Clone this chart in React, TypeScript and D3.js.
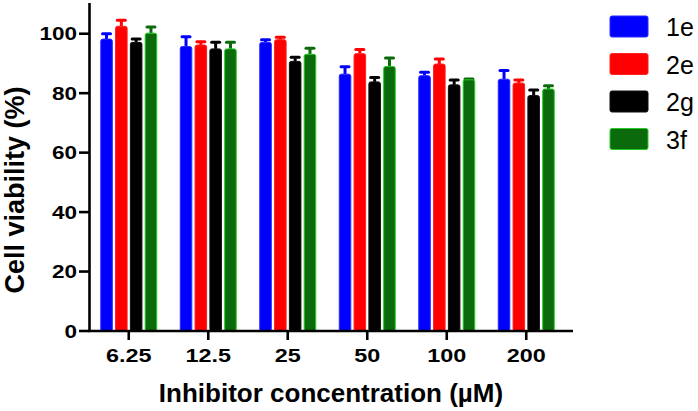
import React from "react";
import * as d3 from "d3";

const categories = ["6.25", "12.5", "25", "50", "100", "200"];
const series = ["1e", "2e", "2g", "3f"];
const values1e = [98.2, 95.7, 97.1, 86.4, 85.9, 84.7];
const errors1e = [1.8, 3.3, 0.9, 2.5, 1.1, 2.9];
const values2e = [102.5, 96.2, 98.0, 93.3, 89.8, 83.4];
const errors2e = [2.0, 1.1, 0.8, 1.4, 1.7, 1.0];
const values2g = [97.1, 94.9, 90.7, 83.8, 82.8, 79.2];
const errors2g = [1.1, 2.2, 1.4, 1.5, 1.6, 1.9];
const values3f = [100.2, 94.9, 93.1, 89.0, 84.5, 81.4];
const errors3f = [2.1, 2.2, 2.0, 2.8, 0.3, 1.1];
const yTicks = [0, 20, 40, 60, 80, 100];

const seriesValues = [values1e, values2e, values2g, values3f];
const seriesErrors = [errors1e, errors2e, errors2g, errors3f];
const fills = ["#0000ff", "#ff0000", "#000000", "#0b6a0b"];
const strokes = ["#2a2aff", "#ff2020", "#111111", "#22cc22"];

export default function App() {
  const W = 698, H = 411;
  const axisX = 89.5, axisY = 331;
  const x = d3.scalePoint<string>().domain(categories).range([89, 566]).padding(0.5);
  const inner = d3.scaleBand<string>().domain(series).range([-28, 28]).paddingInner(0.22);
  const y = d3.scaleLinear().domain([0, 110]).range([331, 4]);
  const bw = inner.bandwidth();
  const font = "'Liberation Sans', Arial, Helvetica, sans-serif";

  return (
    <svg width={W} height={H} style={{ position: "absolute", left: 0, top: 0, background: "#fff" }}>
      {series.map((s, si) =>
        categories.map((c, ci) => {
          const v = seriesValues[si][ci];
          const e = seriesErrors[si][ci];
          const x0 = (x(c) as number) + (inner(s) as number);
          const cx = x0 + bw / 2;
          return (
            <g key={s + c}>
              <line x1={cx} x2={cx} y1={y(v)} y2={y(v + e)} stroke={fills[si]} strokeWidth={3} />
              <line x1={cx - 4} x2={cx + 4} y1={y(v + e)} y2={y(v + e)} stroke={fills[si]} strokeWidth={3} strokeLinecap="round" />
              <rect x={x0} y={y(v)} width={bw} height={y(0) - y(v)} rx={2} fill={fills[si]} stroke={strokes[si]} strokeWidth={1} />
            </g>
          );
        })
      )}
      {/* y axis */}
      <line x1={axisX} x2={axisX} y1={3} y2={axisY + 1} stroke="#000" strokeWidth={2.6} />
      {yTicks.map((t) => (
        <g key={t}>
          <line x1={79} x2={axisX} y1={y(t)} y2={y(t)} stroke="#000" strokeWidth={2.6} />
          <text
            transform={`translate(77,${y(t) + 6.5}) scale(1.25,1)`}
            textAnchor="end"
            fontFamily={font}
            fontWeight="bold"
            fontSize={18}
            fill="#000"
          >
            {t}
          </text>
        </g>
      ))}
      {/* x axis */}
      <line x1={88.5} x2={573} y1={axisY} y2={axisY} stroke="#000" strokeWidth={2.6} />
      {categories.map((c) => (
        <g key={c}>
          <line x1={x(c) as number} x2={x(c) as number} y1={axisY} y2={340} stroke="#000" strokeWidth={2.6} />
          <text
            transform={`translate(${x(c)},${361.5}) scale(1.3,1)`}
            textAnchor="middle"
            fontFamily={font}
            fontWeight="bold"
            fontSize={18}
            fill="#000"
          >
            {c}
          </text>
        </g>
      ))}
      <text x={331} y={401.5} textAnchor="middle" fontFamily={font} fontWeight="bold" fontSize={26} fill="#000">
        Inhibitor concentration (µM)
      </text>
      <text
        transform={`translate(24,190) rotate(-90)`}
        textAnchor="middle"
        fontFamily={font}
        fontWeight="bold"
        fontSize={27}
        fill="#000"
      >
        Cell viability (%)
      </text>
      {/* legend */}
      {series.map((s, si) => (
        <g key={s}>
          <rect x={610} y={16 + si * 37.5} width={38} height={21} rx={2} fill={fills[si]} stroke={strokes[si]} strokeWidth={1} />
          <text x={666} y={36 + si * 37.5} fontFamily={font} fontSize={25} fill="#000">
            {s}
          </text>
        </g>
      ))}
    </svg>
  );
}
